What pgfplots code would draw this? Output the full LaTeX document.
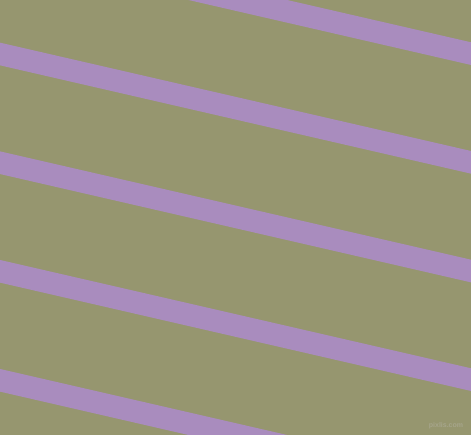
\documentclass[border=0pt]{standalone}
\usepackage{pgfplots}
\pgfplotsset{compat=1.18}
\usepackage{fontspec}
\setmainfont{Liberation Sans}
\definecolor{bg}{HTML}{96966F}
\definecolor{stripe}{HTML}{A98CBE}
\definecolor{wm}{HTML}{A6A58B}
\begin{document}
\begin{tikzpicture}
\begin{axis}[
  scale only axis, width=471pt, height=435pt,
  xmin=0, xmax=471, ymin=0, ymax=435, y dir=reverse,
  hide axis, clip=true, clip bounding box=upper bound,
]
\addplot[fill=bg, draw=none] coordinates {(-5,-5) (476,-5) (476,440) (-5,440)} -- cycle;
\addplot[fill=stripe, draw=none] coordinates {(-20,-70.65) (491,46.88) (491,69.58) (-20,-47.95)} -- cycle;
\addplot[fill=stripe, draw=none] coordinates {(-20,38.05) (491,155.58) (491,178.28) (-20,60.75)} -- cycle;
\addplot[fill=stripe, draw=none] coordinates {(-20,146.75) (491,264.28) (491,286.98) (-20,169.45)} -- cycle;
\addplot[fill=stripe, draw=none] coordinates {(-20,255.35) (491,372.88) (491,395.58) (-20,278.05)} -- cycle;
\addplot[fill=stripe, draw=none] coordinates {(-20,364.35) (491,481.88) (491,504.58) (-20,387.05)} -- cycle;
\node[text=wm, font=\fontsize{7}{8}\selectfont\bfseries, inner sep=0pt] at (axis cs:446,426) {pixlis.com};
\end{axis}
\pgfresetboundingbox
\path[use as bounding box] (current axis.south west) rectangle (current axis.north east);
\end{tikzpicture}
\end{document}
